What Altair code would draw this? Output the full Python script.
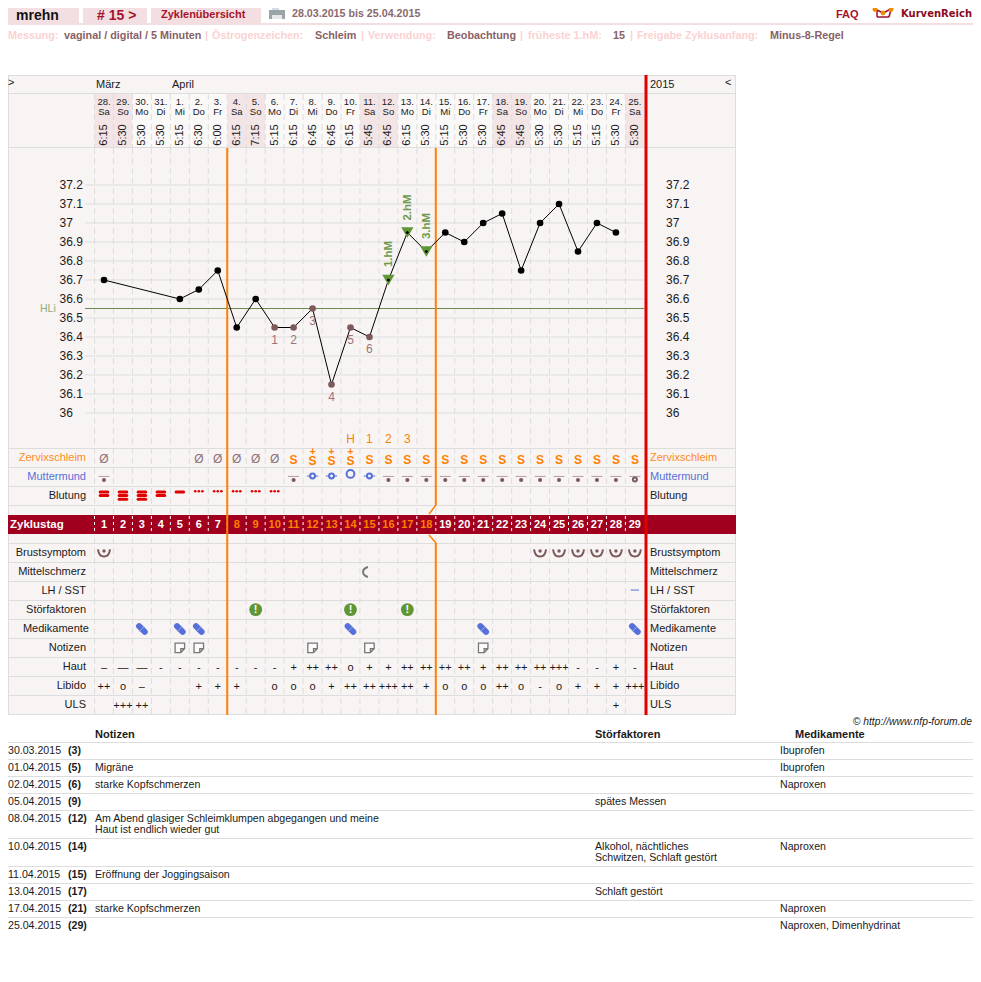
import altair as alt
import pandas as pd

# ---------- values ----------
days = list(range(1, 30))
dates = ["28.","29.","30.","31.","1.","2.","3.","4.","5.","6.","7.","8.","9.","10.","11.","12.","13.","14.","15.","16.","17.","18.","19.","20.","21.","22.","23.","24.","25."]
wdays = ["Sa","So","Mo","Di","Mi","Do","Fr","Sa","So","Mo","Di","Mi","Do","Fr","Sa","So","Mo","Di","Mi","Do","Fr","Sa","So","Mo","Di","Mi","Do","Fr","Sa"]
times = ["6:15","5:30","5:30","5:30","5:15","6:30","6:00","6:15","7:15","5:15","6:15","6:45","6:45","6:15","5:45","6:45","6:15","5:30","5:15","5:30","5:30","6:45","5:45","5:30","5:30","5:15","5:15","5:30","5:30"]
temp_days = [1,5,6,7,8,9,10,11,12,13,14,15,16,17,18,19,20,21,22,23,24,25,26,27,28]
temps = [36.7,36.6,36.65,36.75,36.45,36.6,36.45,36.45,36.55,36.15,36.45,36.4,36.7,36.95,36.85,36.95,36.9,37.0,37.05,36.75,37.0,37.1,36.85,37.0,36.95]
low_days = [10,11,12,13,14,15]
low_labels = ["1","2","3","4","5","6"]
high_days = [16,17,18]
tick_vals = [37.2,37.1,37.0,36.9,36.8,36.7,36.6,36.5,36.4,36.3,36.2,36.1,36.0]
tick_txt = ["37.2","37.1","37","36.9","36.8","36.7","36.6","36.5","36.4","36.3","36.2","36.1","36"]
hli = 36.55
zs_dry = [1,6,7,8,9,10]
zs_s = [11]+list(range(15,30))
zs_plus = [12,13,14]
peak_days = [14,15,16,17]
peak_txt = ["H","1","2","3"]
mm_closed = [1,11]+list(range(16,29))
mm_open = [12,13,15]
mm_wide = [14]
mm_ring = [29]
bleed_days = [1,2,3,4,5]
bleed_bars = [2,3,3,2,1]
spot_days = [6,7,8,9,10]
breast_days = [1,24,25,26,27,28,29]
pain_days = [15]
lh_days = [29]
disturb_days = [9,14,17]
med_days = [3,5,6,14,21,29]
note_days = [5,6,12,15,21]
haut_txt = ["–","—","—","-","-","-","-","-","-","-","+","++","++","o","+","+","++","++","++","++","+","++","++","++","+++","-","-","+","-"]
libido_days = [1,2,3,6,7,8,10,11,12,13,14,15,16,17,18,19,20,21,22,23,24,25,26,27,28,29]
libido_txt = ["++","o","–","+","+","+","o","o","o","+","++","++","+++","++","+","o","o","o","++","o","-","o","+","+","+","+++"]
uls_days = [2,3,28]
uls_txt = ["+++","++","+"]
row_names = ["Zervixschleim","Muttermund","Blutung","Brustsymptom","Mittelschmerz","LH / SST","Störfaktoren","Medikamente","Notizen","Haut","Libido","ULS"]
tbl_date = ["30.03.2015","01.04.2015","02.04.2015","05.04.2015","08.04.2015","10.04.2015","11.04.2015","13.04.2015","17.04.2015","25.04.2015"]
tbl_day = ["(3)","(5)","(6)","(9)","(12)","(14)","(15)","(17)","(21)","(29)"]
tbl_note = [[],["Migräne"],["starke Kopfschmerzen"],[],["Am Abend glasiger Schleimklumpen abgegangen und meine","Haut ist endlich wieder gut"],[],["Eröffnung der Joggingsaison"],[],["starke Kopfschmerzen"],[]]
tbl_stoer = [[],[],[],["spätes Messen"],[],["Alkohol, nächtliches","Schwitzen, Schlaft gestört"],[],["Schlaft gestört"],[],[]]
tbl_med = ["Ibuprofen","Ibuprofen","Naproxen","","","Naproxen","","","Naproxen","Naproxen, Dimenhydrinat"]

# ---------- colours ----------
BG = "#f9f4f4"; WE = "#f3e4e6"; HEAD = "#fbf8f8"; GRID = "#dddddd"; PINK = "#f3dfe1"
ORANGE = "#ff8000"; RED = "#e00000"; BAND = "#a0001e"; BROWN = "#7c5a5a"; BLUE = "#5570d8"
GREEN = "#5f9636"; DARK = "#1a1a1a"; SANS = "Liberation Sans"

# ---------- scales: page geometry ----------
PX0, PY0, W, H = 8, 8, 965, 950
xs = alt.Scale(domain=[1+(PX0-104)/18.96, 1+(PX0+W-104)/18.96], nice=False, zero=False)
ts = alt.Scale(domain=[37.2-(PY0+H-185)/190, 37.2-(PY0-185)/190], nice=False, zero=False)
rs = alt.Scale(domain=[(PY0+H-458)/19, (PY0-458)/19], nice=False, zero=False)
X = lambda f="day": alt.X(f"{f}:Q", scale=xs, axis=None, title=None)
TY = lambda f="t": alt.Y(f"{f}:Q", scale=ts, axis=None, title=None)
RY = lambda f="r": alt.Y(f"{f}:Q", scale=rs, axis=None, title=None)
one = pd.DataFrame({"a": [0]})
L = []

def P(x): return x-PX0
def Q(y): return y-PY0

def box(x0, y0, x1, y1, c):
    L.append(alt.Chart(one).mark_rect(color=c).encode(x=alt.value(P(x0)), x2=alt.value(P(x1)), y=alt.value(Q(y0)), y2=alt.value(Q(y1))))

def seg(x0, y0, x1, y1, c, w=1, dash=None):
    kw = {"strokeDash": dash} if dash else {}
    L.append(alt.Chart(one).mark_rule(color=c, strokeWidth=w, **kw).encode(x=alt.value(P(x0)), x2=alt.value(P(x1)), y=alt.value(Q(y0)), y2=alt.value(Q(y1))))

def T(txt, x, y, size=11, color=DARK, bold=False, align="left", font=SANS, angle=0, italic=False):
    kw = {}
    if bold: kw["fontWeight"] = "bold"
    if italic: kw["fontStyle"] = "italic"
    if angle: kw["angle"] = angle
    L.append(alt.Chart(one).mark_text(text=txt, fontSize=size, color=color, align=align, baseline="middle", font=font, **kw).encode(x=alt.value(P(x)), y=alt.value(Q(y))))

def day_text(ds, txts, row, color=DARK, size=11, bold=False, dr=0.0, font=SANS):
    df = pd.DataFrame({"day": ds, "s": txts, "r": [row+dr]*len(ds)})
    kw = {"fontWeight": "bold"} if bold else {}
    L.append(alt.Chart(df).mark_text(color=color, fontSize=size, font=font, baseline="middle", **kw).encode(x=X(), y=RY(), text="s:N"))

def icon(ds, row, shape, size, dr=0.0, **mk):
    df = pd.DataFrame({"day": ds, "r": [row+dr]*len(ds)})
    L.append(alt.Chart(df).mark_point(shape=shape, size=size, **mk).encode(x=X(), y=RY()))

# ---------- page header ----------
box(8, 8, 79, 23, PINK); box(83, 8, 147, 23, PINK); box(151, 8, 261, 23, PINK)
box(8, 23, 973, 25, PINK)
T("mrehn", 16, 16, 14, "#111111", True)
T("# 15 >", 97, 16, 14, "#a5142c", True)
T("Zyklenübersicht", 161, 15, 11, "#a5142c", True)
box(272, 8, 279, 11, "#d5dce6"); box(269, 10, 285, 19, "#9aa3a8"); box(272, 15, 282, 19, "#e8e8e8")
T("28.03.2015 bis 25.04.2015", 292, 14, 10.7, "#8a6a6e", True)
T("FAQ", 836, 15, 11, "#a5142c", True)
for a in [(875, 9, 883, 13), (883, 13, 891, 9), (877, 10, 877, 17), (877, 17, 889, 17), (889, 17, 891, 9)]:
    seg(*a, "#a01030", 1.5)
for cx, cy in [(875, 9.5), (883, 13), (891, 9.5)]:
    L.append(alt.Chart(one).mark_point(shape="circle", size=24, filled=True, color="#f08a00", opacity=1).encode(x=alt.value(P(cx)), y=alt.value(Q(cy))))
T("KurvenReich", 901, 14, 10, "#8c0a20", True, font="DejaVu Sans")

PK = "#fbd2d2"; BR = "#8a5f64"
for txt, x, c in [("Messung:", 8, PK), ("vaginal / digital / 5 Minuten", 64, BR), ("|", 205, PK), ("Östrogenzeichen:", 212, PK),
                  ("Schleim", 315, BR), ("|", 361, PK), ("Verwendung:", 368, PK), ("Beobachtung", 447, BR), ("|", 520, PK),
                  ("früheste 1.hM:", 528, PK), ("15", 613, BR), ("|", 630, PK), ("Freigabe Zyklusanfang:", 637, PK), ("Minus-8-Regel", 770, BR)]:
    T(txt, x, 36, 10.8, c, True)

# ---------- table background ----------
box(8, 75, 736, 715, BG)
hd = pd.DataFrame({"day": [d-0.5 for d in days], "day2": [d+0.5 for d in days], "we": [w in ("Sa", "So") for w in wdays]})
L.append(alt.Chart(hd).mark_rect().encode(x=X(), x2="day2:Q", y=alt.value(Q(94)), y2=alt.value(Q(147)),
         color=alt.Color("we:N", scale=alt.Scale(domain=[True, False], range=[WE, HEAD]), legend=None)))
for y in [75.5, 93.5, 147.5]:
    seg(8, y, 736, y, GRID, 1.2)
seg(735.5, 75, 735.5, 715, GRID, 1)
seg(8.5, 75, 8.5, 715, GRID, 1)
seg(8, 714.5, 736, 714.5, GRID, 1)

# grid: rows, day columns
for y in [448.5, 467.5, 486.5, 505.5, 543.5, 562.5, 581.5, 600.5, 619.5, 638.5, 657.5, 676.5, 695.5]:
    seg(8, y, 736, y, GRID, 1)
bd = pd.DataFrame({"day": [d+0.5 for d in [0]+days[:-1]]})
for y0, y1 in [(94, 147), (148, 714)]:
    L.append(alt.Chart(bd).mark_rule(color=GRID, strokeDash=[6, 4], strokeWidth=1).encode(x=X(), y=alt.value(Q(y0)), y2=alt.value(Q(y1))))

# temperature grid
tk = pd.DataFrame({"t": tick_vals, "s": tick_txt, "a": [1+(85-104)/18.96]*13, "b": [29.5]*13})
L.append(alt.Chart(tk).mark_rule(color=GRID, strokeWidth=1).encode(x=X("a"), x2="b:Q", y=TY()))
L.append(alt.Chart(tk).mark_text(align="left", baseline="middle", fontSize=12, font=SANS, color=DARK).encode(x=alt.value(P(59.5)), y=TY(), text="s:N"))
L.append(alt.Chart(tk).mark_text(align="left", baseline="middle", fontSize=12, font=SANS, color=DARK).encode(x=alt.value(P(666)), y=TY(), text="s:N"))
L.append(alt.Chart(pd.DataFrame({"t": [hli], "a": [1+(85-104)/18.96], "b": [29.5]})).mark_rule(color="#6a8a50", strokeWidth=1).encode(x=X("a"), x2="b:Q", y=TY()))
T("HLi", 40, 309, 10.5, "#8fae78")

# Zyklustag band
box(8, 515, 736, 534, BAND)
L.append(alt.Chart(bd).mark_rule(color="#ffffff", strokeDash=[3, 3], strokeWidth=1).encode(x=X(), y=alt.value(Q(516)), y2=alt.value(Q(534))))

# vertical markers
b1 = pd.DataFrame({"day": [7.5]}); b2 = pd.DataFrame({"day": [18.5]})
L.append(alt.Chart(b1).mark_rule(color=ORANGE, strokeWidth=2).encode(x=X(), y=alt.value(Q(148)), y2=alt.value(Q(715))))
L.append(alt.Chart(b2).mark_rule(color=ORANGE, strokeWidth=2).encode(x=X(), y=alt.value(Q(148)), y2=alt.value(Q(505))))
L.append(alt.Chart(b2).mark_rule(color=ORANGE, strokeWidth=2).encode(x=X(), y=alt.value(Q(543)), y2=alt.value(Q(715))))
seg(436, 505, 429, 514, ORANGE, 1.5); seg(429, 535, 436, 543, ORANGE, 1.5)
box(644.5, 75, 647.5, 715, RED)

# header labels
T(">", 8, 83, 11); T("März", 96, 85); T("April", 172, 85); T("2015", 650, 85); T("<", 725, 83)
hdr = pd.DataFrame({"day": days, "a": dates, "w": wdays, "c": times})
for fld, y in [("a", 102), ("w", 112)]:
    L.append(alt.Chart(hdr).mark_text(fontSize=9.5, font=SANS, color=DARK, baseline="middle").encode(x=X(), y=alt.value(Q(y)), text=f"{fld}:N"))
L.append(alt.Chart(hdr).mark_text(fontSize=11, font=SANS, color=DARK, angle=270, baseline="middle").encode(x=X(), y=alt.value(Q(135)), text="c:N"))

# temperature curve
cur = pd.DataFrame({"day": temp_days, "t": temps})
L.append(alt.Chart(cur).mark_line(color="#000000", strokeWidth=1).encode(x=X(), y=TY()))
hi = cur[cur.day.isin(high_days)]
lo = cur[cur.day.isin(low_days)].assign(s=low_labels)
bl = cur[~cur.day.isin(high_days + low_days)]
L.append(alt.Chart(hi).mark_point(shape="triangle-down", size=150, filled=True, color=GREEN, opacity=1).encode(x=X(), y=TY()))
L.append(alt.Chart(hi).mark_point(shape="diamond", size=14, filled=True, color="#000000", opacity=1).encode(x=X(), y=TY()))
L.append(alt.Chart(bl).mark_point(shape="circle", size=44, filled=True, color="#000000", opacity=1).encode(x=X(), y=TY()))
L.append(alt.Chart(lo).mark_point(shape="circle", size=44, filled=True, color=BROWN, opacity=1).encode(x=X(), y=TY()))
L.append(alt.Chart(lo).mark_text(fontSize=12, font=SANS, color="#9a7478", dy=12, baseline="middle").encode(x=X(), y=TY(), text="s:N"))
T("1.hM", 389, 254, 11.5, "#6d9a4c", True, "center", angle=270)
T("2.hM", 408, 207.5, 11.5, "#6d9a4c", True, "center", angle=270)
T("3.hM", 427, 226, 11.5, "#6d9a4c", True, "center", angle=270)

# row labels
lab_y = {"Zervixschleim": 458, "Muttermund": 477, "Blutung": 496, "Brustsymptom": 553, "Mittelschmerz": 572, "LH / SST": 591,
         "Störfaktoren": 610, "Medikamente": 629, "Notizen": 648, "Haut": 667, "Libido": 686, "ULS": 705}
lab_c = {"Zervixschleim": "#ff8c1a", "Muttermund": "#5570d8"}
for n in row_names:
    c = lab_c.get(n, DARK)
    T(n, 89 if n == "Medikamente" else 86, lab_y[n], 11, c, align="right")
    T(n, 650, lab_y[n], 11, c)
T("Zyklustag", 10, 525, 11.5, "#ffffff", True)
zt = 3.526
day_text(days[:7], [str(d) for d in days[:7]], zt, "#ffffff", 11, True)
day_text(days[7:18], [str(d) for d in days[7:18]], zt, ORANGE, 11, True)
day_text(days[18:], [str(d) for d in days[18:]], zt, "#ffffff", 11, True)

# fertility rows
day_text(peak_days, peak_txt, -1, ORANGE, 12)
day_text(zs_dry, ["Ø"]*len(zs_dry), 0, "#8d7074", 12, dr=0.06)
day_text(zs_s, ["S"]*len(zs_s), 0, ORANGE, 12, True, dr=0.1)
day_text(zs_plus, ["S"]*3, 0, ORANGE, 12, True, dr=0.14)
day_text(zs_plus, ["+"]*3, 0, ORANGE, 10, True, dr=-0.34)

mm_line = mm_closed + mm_ring
df = pd.DataFrame({"day": [d-0.29 for d in mm_line], "d2": [d+0.29 for d in mm_line], "r": [1-0.03]*len(mm_line)})
L.append(alt.Chart(df).mark_rule(color="#b59c9f", strokeWidth=1).encode(x=X(), x2="d2:Q", y=RY()))
icon(mm_closed, 1, "circle", 17, dr=0.16, filled=True, color=BROWN, opacity=1)
df = pd.DataFrame({"day": [d-0.3 for d in mm_open], "d2": [d+0.3 for d in mm_open], "r": [1-0.05]*len(mm_open)})
L.append(alt.Chart(df).mark_rule(color=BLUE, strokeWidth=1).encode(x=X(), x2="d2:Q", y=RY()))
icon(mm_open, 1, "circle", 24, dr=-0.05, filled=False, color=BLUE, strokeWidth=2, opacity=1, fill=BG, fillOpacity=1)
icon(mm_wide, 1, "circle", 60, dr=-0.16, filled=False, color=BLUE, strokeWidth=2, opacity=1, fill=BG, fillOpacity=1)
icon(mm_ring, 1, "circle", 16, dr=0.13, filled=False, color=BROWN, strokeWidth=2, opacity=1)

# bleeding
rows = [{"day": d-0.2, "d2": d+0.2, "r": 2+(-4+3.6*i)/19} for d, n in zip(bleed_days, bleed_bars) for i in range(n)]
L.append(alt.Chart(pd.DataFrame(rows)).mark_rule(color=RED, strokeWidth=3, strokeCap="round").encode(x=X(), x2="d2:Q", y=RY()))
rows = [{"day": d+o, "r": 2-4.7/19} for d in spot_days for o in (-0.19, 0, 0.19)]
L.append(alt.Chart(pd.DataFrame(rows)).mark_point(shape="circle", size=7, filled=True, color=RED, opacity=1).encode(x=X(), y=RY()))

# symptom icons
icon(breast_days, 5, "M-1,-0.6 C-0.8,1 0.8,1 1,-0.6", 144, fill=None, color=BROWN, strokeWidth=2, opacity=1)
icon(breast_days, 5, "circle", 12, dr=-0.11, filled=True, color=BROWN, opacity=1)
icon(pain_days, 6, "M0.1,-1 C-1.2,-0.6 -1.2,0.6 0.1,1", 100, fill=None, color="#777777", strokeWidth=2, opacity=1, xOffset=-2)
df = pd.DataFrame({"day": [d-0.22 for d in lh_days], "d2": [d+0.22 for d in lh_days], "r": [7-0.05]})
L.append(alt.Chart(df).mark_rule(color=BLUE, strokeWidth=1).encode(x=X(), x2="d2:Q", y=RY()))
icon(disturb_days, 8, "circle", 165, dr=-0.02, filled=True, color=GREEN, opacity=1)
day_text(disturb_days, ["!"]*3, 8, "#ffffff", 11, True, dr=-0.02)
icon(med_days, 9, "M-1,-1 L1,1", 32, fill=None, color=BLUE, strokeWidth=6, strokeCap="round", opacity=1)
icon(med_days, 9, "M-1,1 L1,-1", 26, fill=None, color="#a8b6ea", strokeWidth=0.8, opacity=1)
icon(note_days, 10, "M-1,-1 L1,-1 L1,0.2 L0.2,1 L-1,1 Z M1,0.2 L0.2,0.2 L0.2,1", 90, color="#777777", strokeWidth=1.3, fill="#fbfbfb", fillOpacity=1, opacity=1, dr=-0.01)

day_text(days, haut_txt, 11, DARK, 11, dr=0.03)
day_text(libido_days, libido_txt, 12, DARK, 11, dr=0.03)
day_text(uls_days, uls_txt, 13, DARK, 11, dr=0.03)

# notes table
T("© http://www.nfp-forum.de", 972, 722, 10.3, DARK, align="right", italic=True)
T("Notizen", 95, 735, 11, DARK, True); T("Störfaktoren", 595, 735, 11, DARK, True); T("Medikamente", 795, 735, 11, DARK, True)
line_y = [742, 759, 776, 793, 810, 838, 866, 883, 900, 917]
for ly in line_y:
    seg(8, ly+0.5, 973, ly+0.5, GRID, 1)
for i, ly in enumerate(line_y):
    y = ly+8.5
    T(tbl_date[i], 8, y, 10.6)
    T(tbl_day[i], 68, y, 10.6, DARK, True)
    for j, s in enumerate(tbl_note[i]):
        T(s, 95, y+j*11, 10.6)
    for j, s in enumerate(tbl_stoer[i]):
        T(s, 595, y+j*11, 10.6)
    if tbl_med[i]:
        T(tbl_med[i], 780, y, 10.6)

chart = alt.layer(*L).resolve_scale(y="independent").properties(
    width=W, height=H, padding=0, background="#ffffff",
    autosize=alt.AutoSizeParams(type="none", contains="content"),
).configure_view(stroke=None)

chart.save("out.html", embed_options={"renderer": "svg", "actions": False})
